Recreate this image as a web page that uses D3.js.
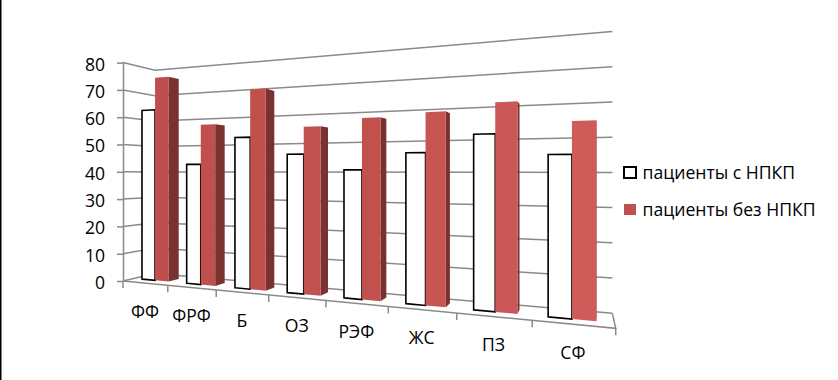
<!DOCTYPE html>
<html><head><meta charset="utf-8">
<script src="https://cdnjs.cloudflare.com/ajax/libs/d3/7.8.5/d3.min.js"></script>
<style>html,body{margin:0;padding:0;background:#fff}svg{display:block}text{font-family:"Open Sans",sans-serif;fill:#000}</style>
</head><body><svg id="c" width="838" height="380"></svg>
<script>
const categories = ["ФФ","ФРФ","Б","ОЗ","РЭФ","ЖС","ПЗ","СФ"];
const seriesNames = ["пациенты с НПКП","пациенты без НПКП"];
const withNsaid = [62.9,42.7,51.9,45.9,40.7,45.9,51,44.9];
const withoutNsaid = [74.7,56.7,68.1,54.8,57,58,60,54];
const valueTicks = [0,10,20,30,40,50,60,70,80];

const svg = d3.select("#c");
const W = 838, H = 380;
const fs = 17.6;

const yFront = d3.scaleLinear().domain([0,80]).range([281,62.6]);
const uBand = d3.scaleBand().domain(categories).range([-0.015,7.985]).paddingInner(0.4).paddingOuter(0.2);
const uSeries = d3.scaleBand().domain([0,1]).range([0,uBand.bandwidth()]);
const uLin = d3.scaleLinear().domain([0,categories.length]).range([0,8]);
const depth = {front:0.33, back:0.67};

function proj(u,v,d){
  const w = 1 - 0.0375*u + 0.075*d;
  return [(123 + 38.5*u + 43.6*d)/w, (yFront(v) - 6.4*u + 13*d)/w];
}
const poly = d3.line();
const grid = "#8a8a8a";

svg.append("rect").attr("width",W).attr("height",H).attr("fill","#fff");
svg.append("line").attr("x1",0.75).attr("x2",0.75).attr("y1",0).attr("y2",H).attr("stroke","#000").attr("stroke-width",1.5);

const g = svg.append("g").attr("fill","none").attr("stroke",grid).attr("stroke-width",1.5);
g.selectAll("path.g").data(valueTicks).join("path").attr("class","g")
  .attr("d",v=>poly([proj(0,v,0),proj(0,v,1),proj(8,v,1)]));
g.append("path").attr("d",poly([proj(0,0,0),proj(8,0,0),proj(8,0,1)]));
g.selectAll("path.t").data(d3.range(0,9)).join("path").attr("class","t")
  .attr("d",u=>{const p=proj(u,0,0);return poly([p,[p[0],p[1]+7]]);});

function box(u0,u1,v){
  const f=depth.front,b=depth.back;
  return {
    front:[proj(u0,0,f),proj(u1,0,f),proj(u1,v,f),proj(u0,v,f)],
    side:[proj(u1,0,f),proj(u1,0,b),proj(u1,v,b),proj(u1,v,f)]
  };
}
const redShade = d3.scaleLinear().domain([0,4,7]).range(["#bf4f4c","#c2514e","#d05c5a"]);
const bars = svg.append("g");
categories.forEach((c,i)=>{
  const base = uBand(c), bw = uSeries.bandwidth();
  const a = box(base+uSeries(0),base+uSeries(0)+bw,withNsaid[i]);
  const r = box(base+uSeries(1),base+uSeries(1)+bw,withoutNsaid[i]);
  bars.append("path").attr("d",poly(a.front)+"Z").attr("fill","#fff").attr("stroke","#000").attr("stroke-width",1.6);
  bars.append("path").attr("d",poly(r.side)+"Z").attr("fill","#7a3230");
  bars.append("path").attr("d",poly(r.front)+"Z").attr("fill",redShade(i));
});

const axis = d3.axisLeft(yFront).tickValues(valueTicks).tickSizeInner(6).tickSizeOuter(0).tickPadding(12);
const ax = svg.append("g").attr("transform","translate(123,0)").call(axis);
ax.selectAll("path,line").attr("stroke",grid).attr("stroke-width",1.5);
ax.selectAll("text").attr("font-size",fs).attr("dy","0.42em").style("font-family",'"Open Sans",sans-serif').attr("fill","#000");

svg.append("g").selectAll("text").data(categories).join("text")
  .attr("font-size",fs).attr("text-anchor","middle")
  .attr("x",(c,i)=>proj(uLin(i+0.5),0,0)[0])
  .attr("y",(c,i)=>proj(uLin(i+0.5),0,0)[1]+34.5)
  .text(c=>c);

const lg = svg.append("g");
const legendY = d3.scalePoint().domain(seriesNames).range([172.5,209.5]);
seriesNames.forEach((n,i)=>{
  const y=legendY(n);
  if(i===0) lg.append("rect").attr("x",624).attr("y",y-5.5).attr("width",12).attr("height",11).attr("fill","#fff").attr("stroke","#000").attr("stroke-width",2);
  else lg.append("rect").attr("x",624).attr("y",y-5.5).attr("width",12).attr("height",11).attr("fill","#c0504d");
  lg.append("text").attr("x",642.5).attr("y",y+6).attr("font-size",fs).text(n);
});
</script></body></html>
